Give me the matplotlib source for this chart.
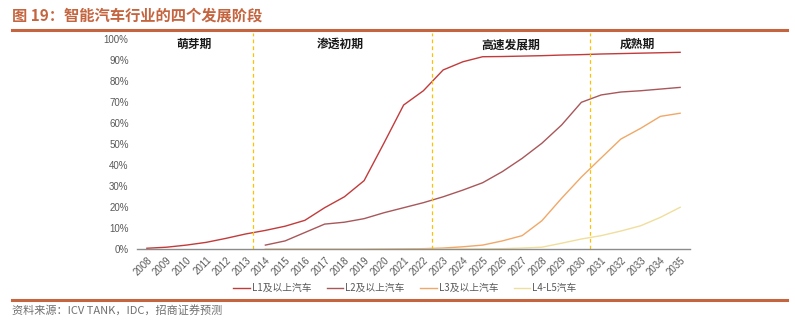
import matplotlib
matplotlib.use("Agg")
import matplotlib.pyplot as plt
from matplotlib.lines import Line2D

plt.rcParams['font.family'] = ['Noto Sans CJK SC', 'DejaVu Sans']

years = list(range(2008, 2036))
l1 = [0.5, 1, 2, 3.3, 5.2, 7.3, 9, 11, 13.8, 19.8, 25, 32.7, 50.5, 68.7, 75.5,
      85.4, 89.3, 91.7, 91.8, 92.0, 92.2, 92.5, 92.7, 93.0, 93.2, 93.4, 93.6, 93.8]
l2 = [None] * 6 + [2, 4, 8, 12, 12.9, 14.6, 17.4, 19.8, 22.2, 25, 28.2, 31.7,
                   37, 43.3, 50.5, 59.2, 70, 73.5, 74.9, 75.5, 76.3, 77.1]
l3 = [None] * 6 + [0, 0, 0, 0, 0, 0, 0.1, 0.2, 0.3, 0.6, 1.2, 2, 4, 6.5,
                   13.6, 24.3, 34.4, 43.5, 52.5, 57.6, 63.3, 64.8]
l4 = [None] * 6 + [0, 0, 0, 0, 0, 0, 0, 0, 0, 0.1, 0.1, 0.2, 0.3, 0.6,
                   1, 2.9, 4.9, 6.5, 8.7, 11.2, 15.2, 20]
series_names = ['L1及以上汽车', 'L2及以上汽车', 'L3及以上汽车', 'L4-L5汽车']
series_colors = ['#C23B3B', '#A8575A', '#F0A868', '#F0DE9C']

stage_names = ['萌芽期', '渗透初期', '高速发展期', '成熟期']
stage_label_x = [2010.4, 2017.8, 2026.4, 2032.85]
stage_bounds = [2013.35, 2022.42, 2030.45]

title_text = '图 19：智能汽车行业的四个发展阶段'
source_text = '资料来源：ICV TANK，IDC，招商证券预测'
accent = '#C4653F'

W, H = 795, 322
fig = plt.figure(figsize=(W / 100, H / 100), dpi=100)

# header and footer rules
fig.add_artist(Line2D([12 / W, 787 / W], [1 - 30 / H, 1 - 30 / H],
                      color=accent, lw=2.2, transform=fig.transFigure))
fig.add_artist(Line2D([12 / W, 787 / W], [1 - 300 / H, 1 - 300 / H],
                      color=accent, lw=2.2, transform=fig.transFigure))
fig.text(12 / W, 1 - 16 / H, title_text, color=accent, fontsize=11,
         fontweight='bold', ha='left', va='center')
fig.text(12 / W, 1 - 310 / H, source_text, color='#707070', fontsize=8,
         ha='left', va='center')

ax = fig.add_axes([137 / W, 1 - 249.3 / H, 553 / W, 216.3 / H])
data = [l1, l2, l3, l4]
for vals, name, col in zip(data, series_names, series_colors):
    xs = [y for y, v in zip(years, vals) if v is not None]
    ys = [v / 100 for v in vals if v is not None]
    ax.plot(xs, ys, color=col, lw=1.0, label=name)

tick_font = ['Liberation Sans', 'DejaVu Sans']
ax.set_xlim(2007.5, 2035.5)
ax.set_ylim(0, 1.03)
ax.set_yticks([i / 10 for i in range(11)])
ax.set_yticklabels([f'{i * 10}%' for i in range(11)], family=tick_font)
ax.set_xticks(years)
ax.set_xticklabels([str(y) for y in years], rotation=45, ha='right',
                   rotation_mode='anchor', family=tick_font)
ax.tick_params(axis='both', length=0, colors='#595959', labelsize=7)
ax.tick_params(axis='y', pad=6)
ax.tick_params(axis='x', pad=4)
for side in ['top', 'right', 'left']:
    ax.spines[side].set_visible(False)
ax.spines['bottom'].set_color('#8C8C8C')
ax.spines['bottom'].set_linewidth(1.0)

for b in stage_bounds:
    ax.axvline(b, ymin=0, ymax=1, color='#FFC000', lw=0.9, ls=(0, (3, 2.5)))

for name, x in zip(stage_names, stage_label_x):
    ax.text(x, 0.975, name, ha='center', va='center', fontsize=8.5,
            fontweight='bold', color='#1A1A1A')

fig.legend(loc='center', bbox_to_anchor=(405 / W, 1 - 288 / H), ncol=4,
           frameon=False, fontsize=7, handlelength=1.7, handletextpad=0.2,
           columnspacing=1.6, labelcolor='#595959')

fig.savefig('out.png', dpi=100)
